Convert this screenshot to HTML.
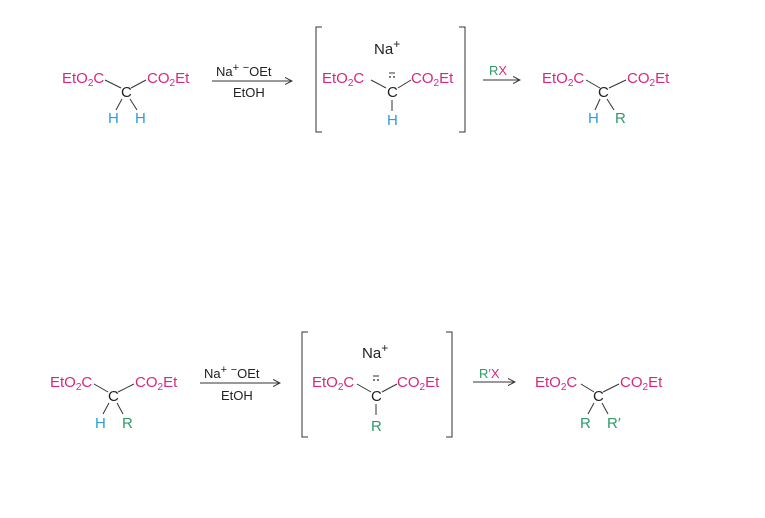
<!DOCTYPE html>
<html><head><meta charset="utf-8"><style>
html,body{margin:0;padding:0;background:#fff}
svg{display:block}
text{font-family:"Liberation Sans",sans-serif;font-size:15px}
.m{fill:#d6287f}.b{fill:#2a9fd6}.g{fill:#2e9a6a}.k{fill:#222}
</style></head><body>
<svg width="765" height="518" viewBox="0 0 765 518" xmlns="http://www.w3.org/2000/svg">
<defs><marker id="ah" markerWidth="8" markerHeight="8" refX="7" refY="4" orient="auto"><path d="M0,0.5 L7,4 L0,7.5" fill="none" stroke="#333" stroke-width="1"/></marker></defs>
<g stroke="#333" stroke-width="1" fill="none">
<path d="M105,80 L121,88 M131,88 L146,80 M122,99 L116,110 M130,99 L137,110"/>
<line x1="212" y1="81" x2="292" y2="81" marker-end="url(#ah)"/>
<path d="M322,27 L316,27 L316,132 L322,132 M459,27 L465,27 L465,132 L459,132"/>
<path d="M371,80 L386,88 M398,88 L411,80 M392,100 L392,111"/>
<path d="M389,73 L395,73"/>
<line x1="483" y1="80" x2="520" y2="80" marker-end="url(#ah)"/>
<path d="M586,80 L600,88 M609,88 L626,80 M600,99 L595,110 M607,99 L614,110"/>
<path d="M94,384 L108,392 M118,392 L134,384 M109,403 L103,414 M117,403 L123,414"/>
<line x1="200" y1="383" x2="280" y2="383" marker-end="url(#ah)"/>
<path d="M308,332 L302,332 L302,437 L308,437 M446,332 L452,332 L452,437 L446,437"/>
<path d="M357,384 L371,392 M382,392 L397,384 M376,404 L376,415"/>
<path d="M373,376 L379,376"/>
<line x1="473" y1="382" x2="515" y2="382" marker-end="url(#ah)"/>
<path d="M581,384 L594,392 M603,392 L619,384 M594,403 L588,414 M602,403 L608,414"/>
</g>
<g fill="#222"><circle cx="390" cy="77" r="0.9"/><circle cx="394" cy="77" r="0.9"/><circle cx="374" cy="380" r="0.9"/><circle cx="378" cy="380" r="0.9"/></g>

<text x="62" y="83" class="m">EtO<tspan font-size="10" dy="3">2</tspan><tspan dy="-3">C</tspan></text>
<text x="121" y="97" class="k">C</text>
<text x="147" y="83" class="m">CO<tspan font-size="10" dy="3">2</tspan><tspan dy="-3">Et</tspan></text>
<text x="108" y="123" class="b">H</text>
<text x="135" y="123" class="b">H</text>
<text x="216" y="76" class="k" style="font-size:13px">Na<tspan font-size="11" dy="-5">+</tspan><tspan dy="5"> </tspan><tspan font-size="11" dy="-5">−</tspan><tspan dy="5">OEt</tspan></text>
<text x="233" y="97" class="k" style="font-size:13px">EtOH</text>
<text x="374" y="54" class="k">Na<tspan font-size="12" dy="-6">+</tspan></text>
<text x="322" y="83" class="m">EtO<tspan font-size="10" dy="3">2</tspan><tspan dy="-3">C</tspan></text>
<text x="387" y="97" class="k">C</text>
<text x="411" y="83" class="m">CO<tspan font-size="10" dy="3">2</tspan><tspan dy="-3">Et</tspan></text>
<text x="387" y="125" class="b">H</text>
<text x="489" y="75" class="g" style="font-size:13px">R<tspan class="m">X</tspan></text>
<text x="542" y="83" class="m">EtO<tspan font-size="10" dy="3">2</tspan><tspan dy="-3">C</tspan></text>
<text x="598" y="97" class="k">C</text>
<text x="627" y="83" class="m">CO<tspan font-size="10" dy="3">2</tspan><tspan dy="-3">Et</tspan></text>
<text x="588" y="123" class="b">H</text>
<text x="615" y="123" class="g">R</text>

<text x="50" y="387" class="m">EtO<tspan font-size="10" dy="3">2</tspan><tspan dy="-3">C</tspan></text>
<text x="108" y="401" class="k">C</text>
<text x="135" y="387" class="m">CO<tspan font-size="10" dy="3">2</tspan><tspan dy="-3">Et</tspan></text>
<text x="95" y="428" class="b">H</text>
<text x="122" y="428" class="g">R</text>
<text x="204" y="378" class="k" style="font-size:13px">Na<tspan font-size="11" dy="-5">+</tspan><tspan dy="5"> </tspan><tspan font-size="11" dy="-5">−</tspan><tspan dy="5">OEt</tspan></text>
<text x="221" y="400" class="k" style="font-size:13px">EtOH</text>
<text x="362" y="358" class="k">Na<tspan font-size="12" dy="-6">+</tspan></text>
<text x="312" y="387" class="m">EtO<tspan font-size="10" dy="3">2</tspan><tspan dy="-3">C</tspan></text>
<text x="371" y="401" class="k">C</text>
<text x="397" y="387" class="m">CO<tspan font-size="10" dy="3">2</tspan><tspan dy="-3">Et</tspan></text>
<text x="371" y="431" class="g">R</text>
<text x="479" y="378" class="g" style="font-size:13px">R′<tspan class="m">X</tspan></text>
<text x="535" y="387" class="m">EtO<tspan font-size="10" dy="3">2</tspan><tspan dy="-3">C</tspan></text>
<text x="593" y="401" class="k">C</text>
<text x="620" y="387" class="m">CO<tspan font-size="10" dy="3">2</tspan><tspan dy="-3">Et</tspan></text>
<text x="580" y="428" class="g">R</text>
<text x="607" y="428" class="g">R′</text>
</svg>
</body></html>
